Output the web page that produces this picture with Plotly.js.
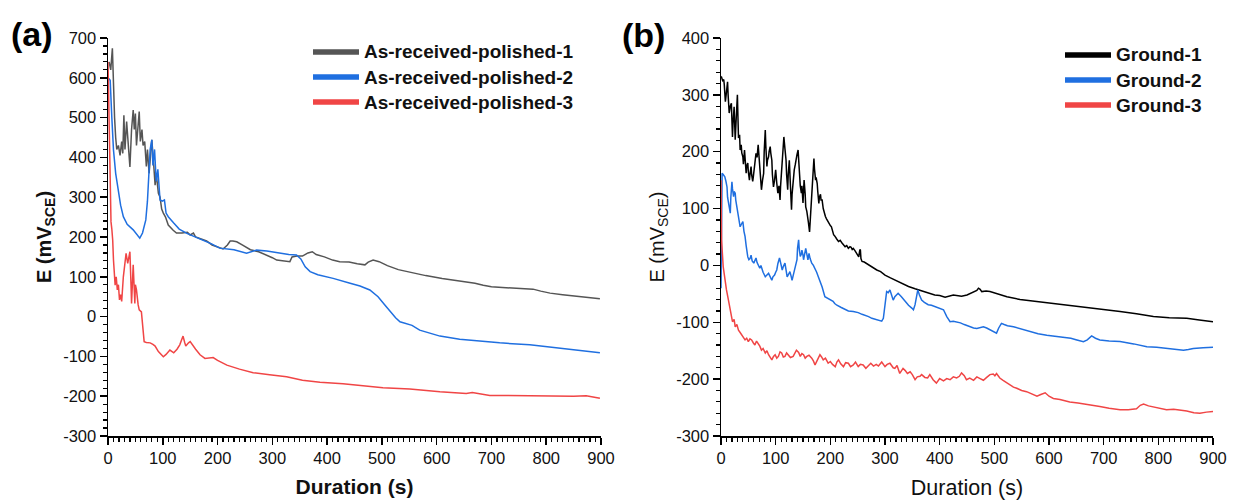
<!DOCTYPE html>
<html>
<head>
<meta charset="utf-8">
<script src="https://cdn.plot.ly/plotly-3.0.1.min.js"></script>
<style>html,body{margin:0;padding:0;background:#fff;}#chart{width:1235px;height:503px;}</style>
</head>
<body>
<div id="chart"></div>
<script>
// ---------- Panel (a): As-received-polished ----------
const a1_t = [2,5,8,10,12,14,16,19,22,25,27,29,31,34,37,40,43,46,48,50,52,55,57,59,62,64,67,70,72,75,78,80,83,86,88,90,92,95,98,101,105,110,115,119,125,135,145,150,156,160,170,180,190,200,210,218,223,228,235,245,260,275,290,300,308,320,332,336,345,355,365,373,380,395,410,423,440,455,469,475,484,495,510,530,557,580,610,640,654,670,685,700,720,745,776,790,807,830,860,880,898];
const a1_E = [640,620,674,560,500,450,420,430,405,440,410,506,420,490,420,376,470,519,470,510,430,500,515,440,470,430,440,377,420,360,400,444,390,330,360,330,310,300,270,260,250,230,222,217,210,210,212,205,210,200,195,190,180,175,170,180,190,190,188,180,168,163,155,148,142,140,138,150,152,152,160,163,156,150,142,138,137,133,130,137,142,138,128,118,109,103,96,90,88,84,79,75,73,71,69,64,59,55,51,47,45];

const a2_t = [0,4,7,10,14,19,23,28,35,46,52,58,63,69,72,74,77,80,82,85,88,91,95,99,103,106,110,120,130,144,160,175,190,204,215,230,253,262,271,290,310,330,344,352,360,369,383,411,442,460,478,493,505,515,525,533,548,555,569,590,606,642,680,715,770,800,837,870,898];
const a2_E = [600,594,500,419,360,318,280,251,232,218,208,197,210,243,290,351,420,444,380,420,340,370,293,290,293,260,251,235,220,209,200,190,182,172,170,168,159,163,167,165,160,156,155,145,125,113,105,96,84,77,67,50,30,12,-3,-13,-19,-22,-34,-43,-49,-57,-62,-66,-71,-76,-82,-87,-91];

const a3_t = [0,2,4,5.5,7,8.6,10,13,15,17,19,21,23,25,28,31,33,36,38,40,42,43,46,49,50,52,55,57,61,63,66,70,77,82,86,92,101,106,113,120,126,131,137,140,142,147,150,160,168,177,185,192,200,217,240,265,295,326,355,387,429,470,502,551,580,606,654,665,697,740,770,819,850,873,898];
const a3_E = [640,450,300,238,220,192,142,79,100,67,80,42,55,38,100,140,159,134,150,163,80,33,130,33,80,67,30,17,12,-20,-63,-65,-66,-70,-74,-88,-101,-95,-84,-91,-82,-71,-49,-65,-74,-66,-63,-82,-96,-105,-104,-103,-110,-122,-132,-141,-146,-151,-160,-165,-169,-175,-179,-182,-186,-189,-193,-191,-198,-199,-198,-201,-200,-199,-205];

// ---------- Panel (b): Ground ----------
const b1_t = [0,1,3,5,6,8,10,12,13,15,17,19,20,21,22,24,25,26,28,30,31,32,34,35,37,38,40,41,43,44,46,47,49,50,52,53,55,56,58,59,61,62,64,66,68,69,70,72,74,76,78,79,81,82,84,85,87,88,90,91,93,94,96,98,100,102,104,106,108,109,111,113,115,117,119,120,122,123,125,127,129,130,132,133,134,136,137,139,141,142,144,145,147,148,150,151,152,154,155,157,158,160,162,164,166,168,170,171,173,174,176,177,179,180,182,183,185,187,188,190,191,193,194,196,197,200,202,204,206,208,210,212,215,218,221,224,227,230,233,236,238,240,242,245,247,250,252,254,255,256,258,262,265,270,276,285,292,300,310,318,325,335,343,355,367,380,391,400,410,425,440,450,462,468,471,474,477,485,492,505,523,547,565,584,610,632,655,681,705,730,760,791,820,852,875,900];
const b1_E = [330,331,325,327,318,288,305,323,300,268,280,285,255,226,250,279,250,221,262,300,260,224,230,203,212,198,191,178,203,185,162,175,180,165,150,160,174,160,148,155,168,180,197,190,212,200,185,160,133,150,162,200,238,210,174,185,191,200,209,198,185,160,138,150,168,145,127,140,115,140,168,200,226,205,185,160,133,160,185,140,98,125,150,160,168,178,185,195,203,180,150,140,127,140,110,130,150,125,103,95,90,75,59,90,127,160,188,170,150,155,144,130,109,120,125,115,115,100,95,90,86,82,80,78,74,70,68,60,54,52,48,46,42,44,40,36,33,35,30,33,32,28,30,26,22,18,15,28,27,12,7,6,4,2,-2,-8,-11,-17,-22,-26,-29,-34,-37,-41,-45,-48,-52,-53,-56,-52,-54,-52,-46,-44,-40,-42,-46,-45,-46,-50,-55,-60,-62,-64,-67,-70,-72,-75,-78,-81,-85,-90,-92,-93,-96,-99];

const b2_t = [0,1,2,4,7,9,11,12,14,15,17,18,20,21,23,24,26,27,29,30,32,33,35,37,40,42,44,46,48,49,51,53,55,57,60,62,64,66,69,71,73,75,77,79,81,84,87,89,91,93,95,98,100,102,104,107,109,112,114,117,119,121,124,126,128,130,132,135,137,139,140,142,143,145,147,148,150,151,153,155,157,159,160,161,163,166,169,172,175,178,182,185,190,195,202,205,208,212,220,227,233,242,251,258,265,270,276,282,286,294,297,300,303,306,309,312,315,318,324,330,337,343,349,352,355,358,360,363,367,372,379,385,390,395,400,407,413,419,425,431,438,445,455,462,468,474,480,486,492,498,504,508,513,518,524,535,550,565,580,596,611,626,640,651,663,670,678,685,693,710,730,755,779,797,815,830,846,855,864,882,900];
const b2_E = [-40,160,162,160,156,148,138,120,109,100,92,120,147,135,121,130,127,115,103,100,92,80,68,72,77,60,51,35,21,15,10,12,18,8,4,8,13,5,-2,-5,0,-8,-12,-16,-20,-17,-14,-18,-22,-26,-20,-17,-12,-8,3,13,5,-8,-2,4,-8,-20,-15,-11,-18,-26,-18,-8,0,10,30,45,30,16,20,27,18,10,20,30,20,10,15,21,12,4,0,-5,-12,-20,-30,-38,-55,-58,-61,-63,-67,-70,-74,-78,-80,-81,-83,-86,-88,-90,-93,-95,-96,-98,-93,-70,-46,-48,-43,-52,-61,-55,-49,-55,-64,-70,-75,-78,-69,-55,-43,-52,-61,-65,-69,-70,-72,-74,-75,-78,-90,-99,-98,-99,-101,-104,-108,-110,-111,-109,-108,-110,-113,-116,-119,-110,-102,-104,-106,-108,-112,-117,-120,-123,-125,-126,-128,-131,-134,-131,-124,-128,-131,-133,-134,-138,-143,-144,-146,-147,-149,-148,-146,-145,-144];

const b3_t = [0,1,4,7,10,13,16,19,21,24,26,29,32,35,38,41,44,47,50,53,56,59,62,65,68,71,74,77,81,84,87,90,93,96,99,102,105,108,111,114,117,120,123,127,132,135,138,142,145,148,151,154,157,161,166,169,172,176,181,184,187,191,196,200,204,209,212,215,219,224,228,233,237,242,246,251,255,260,265,270,274,279,284,288,294,300,304,309,312,315,318,322,327,330,333,337,341,346,350,355,359,364,367,373,378,382,388,394,400,407,413,419,425,431,436,440,445,449,455,462,468,474,480,486,492,498,501,504,510,516,523,529,535,541,550,559,568,578,585,593,600,608,620,638,653,669,680,693,710,730,745,760,767,773,782,791,803,815,828,840,852,865,876,888,900];
const b3_E = [150,45,-2,-25,-43,-58,-73,-85,-99,-95,-108,-104,-114,-118,-122,-126,-131,-128,-134,-129,-131,-136,-140,-133,-137,-142,-149,-146,-154,-150,-157,-161,-166,-160,-157,-163,-160,-152,-154,-161,-160,-154,-157,-162,-160,-155,-149,-153,-160,-155,-157,-163,-160,-158,-163,-168,-175,-167,-157,-161,-166,-163,-172,-169,-174,-178,-170,-166,-173,-178,-171,-172,-178,-175,-170,-178,-174,-175,-181,-176,-172,-177,-174,-177,-170,-178,-174,-172,-176,-180,-181,-176,-190,-184,-181,-185,-190,-187,-192,-201,-196,-195,-192,-197,-198,-192,-201,-207,-199,-203,-199,-201,-196,-198,-195,-189,-194,-201,-198,-202,-196,-199,-202,-197,-192,-191,-194,-190,-198,-202,-207,-211,-214,-216,-220,-222,-226,-230,-227,-224,-230,-234,-236,-240,-242,-244,-246,-248,-251,-254,-254,-252,-246,-244,-247,-249,-252,-254,-253,-254,-256,-259,-260,-258,-257];

// ---------- Tick labels ----------
const xTickVals = [0,100,200,300,400,500,600,700,800,900];
const xTickText = ['0','100','200','300','400','500','600','700','800','900'];
const yaTickVals = [-300,-200,-100,0,100,200,300,400,500,600,700];
const yaTickText = ['-300','-200','-100','0','100','200','300','400','500','600','700'];
const ybTickVals = [-300,-200,-100,0,100,200,300,400];
const ybTickText = ['-300','-200','-100','0','100','200','300','400'];

const cA1 = '#555555', cA2 = '#1f6fe0', cA3 = '#f04545';
const cB1 = '#000000';

function tr(t, e, color, xa, ya) {
  return {x: t, y: e, type: 'scatter', mode: 'lines', xaxis: xa, yaxis: ya,
          line: {color: color, width: 1.5}, showlegend: false, hoverinfo: 'skip'};
}
const data = [
  tr(a1_t, a1_E, cA1, 'x', 'y'),
  tr(a2_t, a2_E, cA2, 'x', 'y'),
  tr(a3_t, a3_E, cA3, 'x', 'y'),
  tr(b1_t, b1_E, cB1, 'x2', 'y2'),
  tr(b2_t, b2_E, cA2, 'x2', 'y2'),
  tr(b3_t, b3_E, cA3, 'x2', 'y2')
];

const W = 1235, H = 503;
const px = v => v / W, py = v => 1 - v / H;
const FONT = 'Liberation Sans, Arial, sans-serif';
const minorY = {dtick: 20, ticks: 'outside', ticklen: 4, tickwidth: 1.2, tickcolor: '#000'};
const minorX = {dtick: 10, ticks: 'outside', ticklen: 4, tickwidth: 1.2, tickcolor: '#000'};

function axisBase(extra) {
  return Object.assign({
    showline: true, linecolor: '#000', linewidth: 1.5, mirror: false,
    showgrid: false, zeroline: false,
    ticks: 'outside', ticklen: 7, tickwidth: 1.5, tickcolor: '#000',
    tickmode: 'array',
    tickfont: {family: FONT, size: 16.5, color: '#111'},
    automargin: false, fixedrange: true
  }, extra);
}

const yDom = [py(436), py(38)];
const layout = {
  width: W, height: H,
  margin: {l: 0, r: 0, t: 0, b: 0},
  paper_bgcolor: '#fff', plot_bgcolor: '#fff',
  showlegend: false,
  xaxis: axisBase({domain: [px(108), px(601)], anchor: 'y', range: [0, 900],
    tickvals: xTickVals, ticktext: xTickText, minor: minorX,
    title: {text: 'Duration (s)', standoff: 13, font: {family: FONT, size: 21, weight: 'bold', color: '#111'}}}),
  yaxis: axisBase({domain: yDom, anchor: 'x', range: [-300, 700],
    tickvals: yaTickVals, ticktext: yaTickText, minor: minorY,
    title: {text: 'E (mV<sub>SCE</sub>)', standoff: 6, font: {family: FONT, size: 20, weight: 'bold', color: '#111'}}}),
  xaxis2: axisBase({domain: [px(721), px(1213)], anchor: 'y2', range: [0, 900],
    tickvals: xTickVals, ticktext: xTickText, minor: minorX,
    title: {text: 'Duration (s)', standoff: 13, font: {family: FONT, size: 21.5, color: '#111'}}}),
  yaxis2: axisBase({domain: yDom, anchor: 'x2', range: [-300, 400],
    tickvals: ybTickVals, ticktext: ybTickText, minor: minorY,
    title: {text: 'E (mV<sub>SCE</sub>)', standoff: 6, font: {family: FONT, size: 20, color: '#111'}}}),
  shapes: [],
  annotations: [
    {text: '<b>(a)</b>', xref: 'paper', yref: 'paper', x: px(32), y: py(34), showarrow: false,
     xanchor: 'center', yanchor: 'middle', font: {family: FONT, size: 34, color: '#000'}},
    {text: '<b>(b)</b>', xref: 'paper', yref: 'paper', x: px(644), y: py(35), showarrow: false,
     xanchor: 'center', yanchor: 'middle', font: {family: FONT, size: 34, color: '#000'}}
  ]
};

// Manual legends (thick line samples + bold labels)
const legA = [['As-received-polished-1', cA1], ['As-received-polished-2', cA2], ['As-received-polished-3', cA3]];
const legB = [['Ground-1', cB1], ['Ground-2', cA2], ['Ground-3', cA3]];
function addLegend(items, x0, x1, y0, gap) {
  items.forEach((it, i) => {
    const yy = y0 + i * gap;
    layout.shapes.push({type: 'line', xref: 'paper', yref: 'paper', x0: px(x0), x1: px(x1), y0: py(yy), y1: py(yy),
      line: {color: it[1], width: 5.5}, layer: 'above'});
    layout.annotations.push({text: '<b>' + it[0] + '</b>', xref: 'paper', yref: 'paper', x: px(x1 + 3), y: py(yy),
      xanchor: 'left', yanchor: 'middle', showarrow: false, font: {family: FONT, size: 19, color: '#111'}});
  });
}
addLegend(legA, 313, 359, 52, 25);
addLegend(legB, 1065, 1111, 55, 25);

Plotly.newPlot('chart', data, layout, {staticPlot: true, displayModeBar: false});
</script>
</body>
</html>
